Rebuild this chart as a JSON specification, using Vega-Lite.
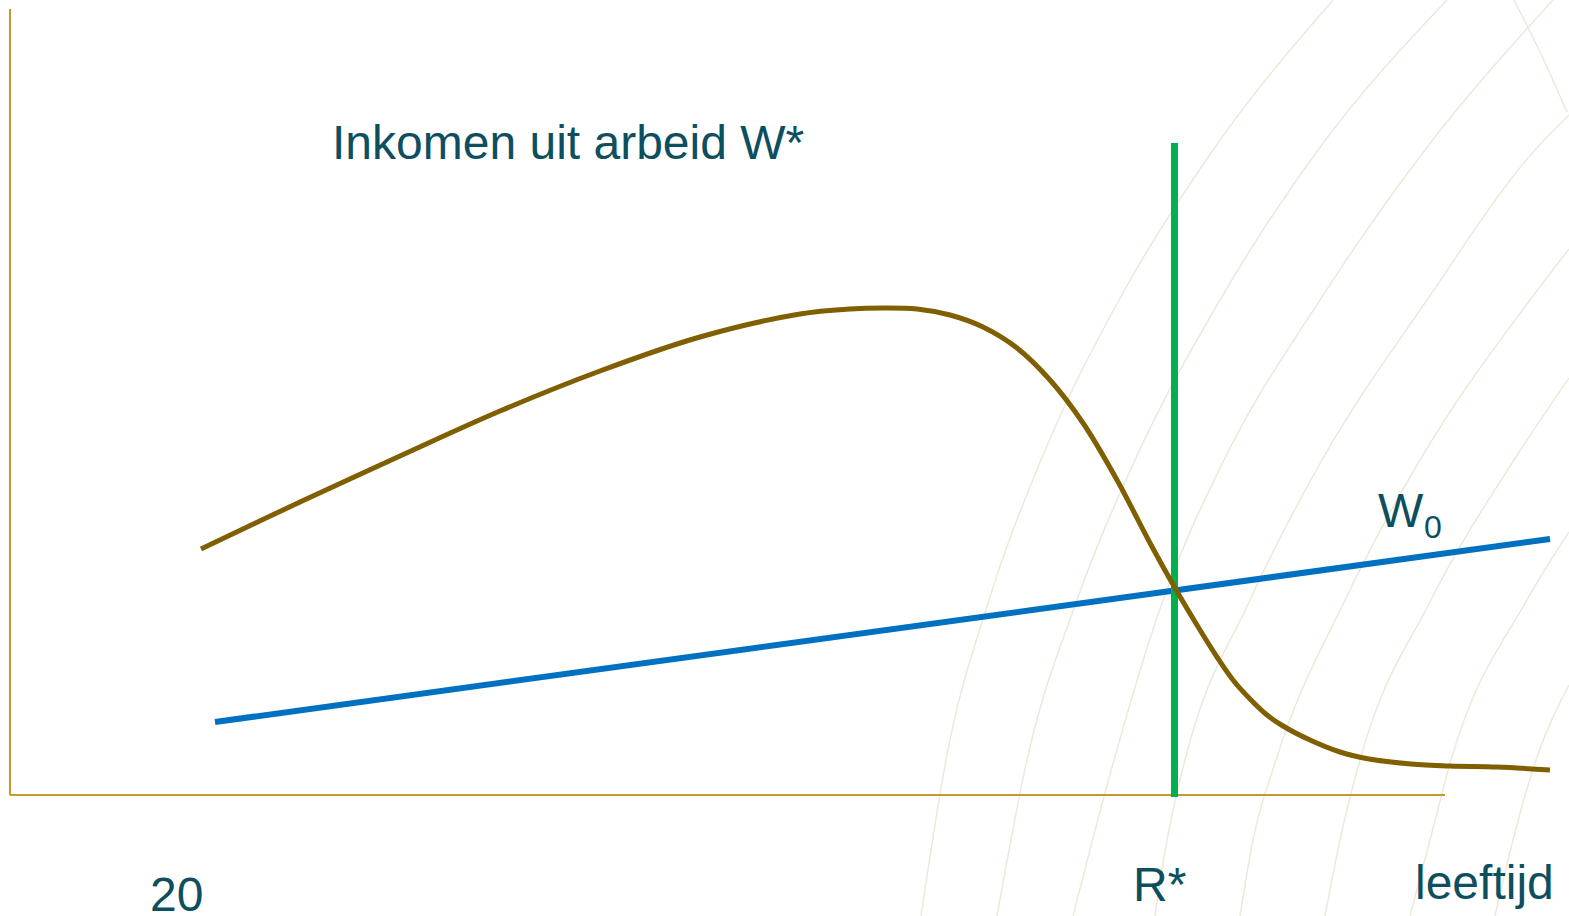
{
  "$schema": "https://vega.github.io/schema/vega-lite/v6.json",
  "width": 1569,
  "height": 916,
  "autosize": {"type": "none"},
  "padding": 0,
  "background": "#ffffff",
  "config": {"view": {"stroke": null}},
  "datasets": {
    "arcs": [
      {"arc": 1, "x": 921, "y": 0}, {"arc": 1, "x": 946, "y": 156}, {"arc": 1, "x": 989, "y": 316}, {"arc": 1, "x": 1041, "y": 456}, {"arc": 1, "x": 1119, "y": 616}, {"arc": 1, "x": 1213, "y": 766}, {"arc": 1, "x": 1333, "y": 916},
      {"arc": 2, "x": 997, "y": 0}, {"arc": 2, "x": 1027, "y": 156}, {"arc": 2, "x": 1077, "y": 316}, {"arc": 2, "x": 1135, "y": 456}, {"arc": 2, "x": 1220, "y": 616}, {"arc": 2, "x": 1318, "y": 766}, {"arc": 2, "x": 1447, "y": 916},
      {"arc": 3, "x": 1073, "y": 0}, {"arc": 3, "x": 1114, "y": 156}, {"arc": 3, "x": 1163, "y": 316}, {"arc": 3, "x": 1224, "y": 456}, {"arc": 3, "x": 1320, "y": 616}, {"arc": 3, "x": 1425, "y": 766}, {"arc": 3, "x": 1553, "y": 916},
      {"arc": 4, "x": 1155, "y": 0}, {"arc": 4, "x": 1167, "y": 76}, {"arc": 4, "x": 1185, "y": 156}, {"arc": 4, "x": 1250, "y": 316}, {"arc": 4, "x": 1322, "y": 456}, {"arc": 4, "x": 1427, "y": 616}, {"arc": 4, "x": 1535, "y": 766}, {"arc": 4, "x": 1569, "y": 801},
      {"arc": 5, "x": 1240, "y": 0}, {"arc": 5, "x": 1253, "y": 76}, {"arc": 5, "x": 1276, "y": 156}, {"arc": 5, "x": 1345, "y": 316}, {"arc": 5, "x": 1420, "y": 456}, {"arc": 5, "x": 1530, "y": 616}, {"arc": 5, "x": 1569, "y": 667},
      {"arc": 6, "x": 1325, "y": 0}, {"arc": 6, "x": 1340, "y": 76}, {"arc": 6, "x": 1360, "y": 156}, {"arc": 6, "x": 1431, "y": 316}, {"arc": 6, "x": 1514, "y": 456}, {"arc": 6, "x": 1569, "y": 538},
      {"arc": 7, "x": 1410, "y": 0}, {"arc": 7, "x": 1430, "y": 76}, {"arc": 7, "x": 1451, "y": 156}, {"arc": 7, "x": 1527, "y": 316}, {"arc": 7, "x": 1569, "y": 384},
      {"arc": 8, "x": 1495, "y": 0}, {"arc": 8, "x": 1513, "y": 76}, {"arc": 8, "x": 1536, "y": 156}, {"arc": 8, "x": 1569, "y": 231},
      {"arc": 9, "x": 1514, "y": 916}, {"arc": 9, "x": 1540, "y": 864}, {"arc": 9, "x": 1567, "y": 804}
    ],
    "axes": [
      {"x": 10, "y": 907, "x2": 10, "y2": 121},
      {"x": 10, "y": 121, "x2": 1445, "y2": 121}
    ],
    "income": [
      {"x": 201, "y": 367}, {"x": 300, "y": 414}, {"x": 400, "y": 460}, {"x": 500, "y": 505},
      {"x": 600, "y": 545}, {"x": 700, "y": 579}, {"x": 800, "y": 602}, {"x": 850, "y": 607},
      {"x": 883, "y": 608}, {"x": 917, "y": 607}, {"x": 950, "y": 601}, {"x": 983, "y": 589},
      {"x": 1017, "y": 568}, {"x": 1050, "y": 536}, {"x": 1083, "y": 493}, {"x": 1117, "y": 436},
      {"x": 1150, "y": 373}, {"x": 1175, "y": 328}, {"x": 1200, "y": 286}, {"x": 1217, "y": 259},
      {"x": 1233, "y": 236}, {"x": 1250, "y": 217}, {"x": 1267, "y": 201}, {"x": 1283, "y": 190},
      {"x": 1310, "y": 176}, {"x": 1340, "y": 164}, {"x": 1369, "y": 157}, {"x": 1411, "y": 152},
      {"x": 1450, "y": 150}, {"x": 1497, "y": 149}, {"x": 1550, "y": 146}
    ],
    "reservation": [
      {"x": 215, "y": 194}, {"x": 1550, "y": 377}
    ],
    "retirement": [
      {"x": 1174.5, "y": 773, "y2": 119}
    ],
    "labels": [
      {"x": 332, "y": 757, "label": "Inkomen uit arbeid W*"},
      {"x": 1378, "y": 389, "label": "W"},
      {"x": 1133, "y": 15, "label": "R*"},
      {"x": 1415, "y": 17, "label": "leeftijd"},
      {"x": 150, "y": 5, "label": "20"}
    ],
    "subscripts": [
      {"x": 1424, "y": 378, "label": "0"}
    ]
  },
  "layer": [
    {
      "data": {"name": "arcs"},
      "mark": {"type": "line", "stroke": "#ECE9DA", "strokeWidth": 1.5, "interpolate": "monotone"},
      "encoding": {
        "x": {"field": "x", "type": "quantitative", "scale": {"domain": [0, 1569], "nice": false, "zero": false}, "axis": null},
        "y": {"field": "y", "type": "quantitative", "scale": {"domain": [0, 916], "nice": false, "zero": false}, "axis": null},
        "detail": {"field": "arc", "type": "nominal"}
      }
    },
    {
      "data": {"name": "axes"},
      "mark": {"type": "rule", "stroke": "#C39A2E", "strokeWidth": 2},
      "encoding": {
        "x": {"field": "x", "type": "quantitative"},
        "y": {"field": "y", "type": "quantitative"},
        "x2": {"field": "x2"},
        "y2": {"field": "y2"}
      }
    },
    {
      "data": {"name": "reservation"},
      "mark": {"type": "line", "stroke": "#0070C0", "strokeWidth": 6},
      "encoding": {
        "x": {"field": "x", "type": "quantitative"},
        "y": {"field": "y", "type": "quantitative"}
      }
    },
    {
      "data": {"name": "retirement"},
      "mark": {"type": "rule", "stroke": "#00B050", "strokeWidth": 7},
      "encoding": {
        "x": {"field": "x", "type": "quantitative"},
        "y": {"field": "y", "type": "quantitative"},
        "y2": {"field": "y2"}
      }
    },
    {
      "data": {"name": "income"},
      "mark": {"type": "line", "stroke": "#7F5F00", "strokeWidth": 5, "interpolate": "catmull-rom"},
      "encoding": {
        "x": {"field": "x", "type": "quantitative"},
        "y": {"field": "y", "type": "quantitative"}
      }
    },
    {
      "data": {"name": "labels"},
      "mark": {"type": "text", "align": "left", "baseline": "alphabetic", "font": "Liberation Sans", "fontSize": 48, "color": "#0D4F5E"},
      "encoding": {
        "x": {"field": "x", "type": "quantitative"},
        "y": {"field": "y", "type": "quantitative"},
        "text": {"field": "label"}
      }
    },
    {
      "data": {"name": "subscripts"},
      "mark": {"type": "text", "align": "left", "baseline": "alphabetic", "font": "Liberation Sans", "fontSize": 32, "color": "#0D4F5E"},
      "encoding": {
        "x": {"field": "x", "type": "quantitative"},
        "y": {"field": "y", "type": "quantitative"},
        "text": {"field": "label"}
      }
    }
  ]
}
